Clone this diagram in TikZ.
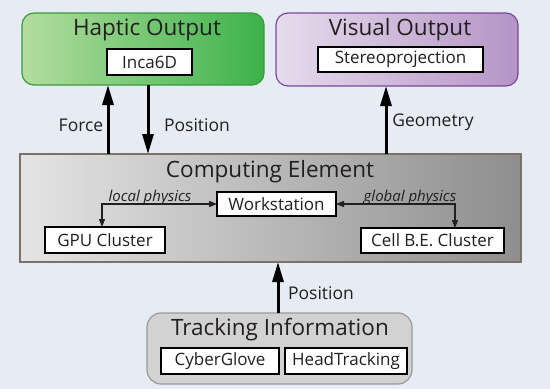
\documentclass[tikz,border=0pt]{standalone}
\usepackage{fontspec}
\setmainfont{Open Sans}
\usetikzlibrary{arrows.meta}
\definecolor{bgc}{HTML}{E7EBF4}
\definecolor{hapL}{HTML}{B3DD9F}
\definecolor{hapR}{HTML}{3CB24A}
\definecolor{hapB}{HTML}{3A9A40}
\definecolor{visL}{HTML}{E6DCEC}
\definecolor{visR}{HTML}{B594C6}
\definecolor{visB}{HTML}{7A4A98}
\definecolor{compL}{HTML}{E4E4E4}
\definecolor{compR}{HTML}{8E8E8E}
\definecolor{compB}{HTML}{7A7266}
\definecolor{trkF}{HTML}{D2D2D2}
\definecolor{trkB}{HTML}{9A9A9A}
\definecolor{txt}{HTML}{231F20}
\begin{document}
\begin{tikzpicture}[x=1pt,y=-1pt,
  bigbox/.style={rectangle, inner sep=0pt, outer sep=0pt, line width=1.2pt},
  titletext/.style={font=\fontsize{22.5}{26}\selectfont, text=txt, inner sep=0pt},
  subbox/.style={rectangle, draw=black, fill=white, line width=1.3pt, inner sep=0pt, outer sep=0pt, font=\fontsize{17}{20}\selectfont, text=txt},
  lbl/.style={font=\fontsize{17.5}{20}\selectfont, text=txt, inner sep=0pt},
  ilbl/.style={font=\fontsize{15}{17}\selectfont\itshape, text=txt, inner sep=0pt, anchor=base},
  bigarrow/.style={line width=3pt, -{Triangle[length=20pt,width=11pt]}},
  smallarrow/.style={line width=1.2pt, {Triangle[length=8pt,width=6pt]}-{Triangle[length=8pt,width=6pt]}, draw=txt}
]
\fill[bgc] (0,0) rectangle (550,389);
\useasboundingbox (0,0) rectangle (550,389);

% Haptic output
\node[bigbox, draw=hapB, left color=hapL, right color=hapR, rounded corners=12pt, minimum width=242pt, minimum height=72pt] (haptic) at (143,49) {};
\node[titletext] (haptictitle) at (147,30) {Haptic Output};
\node[subbox, minimum width=85pt, minimum height=26pt] (inca) at (149.5,62) {Inca6D};

% Visual output
\node[bigbox, draw=visB, left color=visL, right color=visR, rounded corners=12pt, minimum width=242pt, minimum height=73pt] (visual) at (397,49.5) {};
\node[titletext] (visualtitle) at (400,30) {Visual Output};
\node[subbox, minimum width=165pt, minimum height=25pt] (stereo) at (400.5,59.5) {Stereoprojection};

% Computing element
\node[bigbox, draw=compB, left color=compL, right color=compR, minimum width=501pt, minimum height=108pt] (comp) at (270.5,208) {};
\node[titletext] (comptitle) at (270,172) {Computing Element};
\node[subbox, minimum width=119pt, minimum height=24pt] (ws) at (276.5,204) {Workstation};
\node[subbox, minimum width=120pt, minimum height=26pt] (gpu) at (105,240) {GPU Cluster};
\node[subbox, minimum width=143pt, minimum height=25pt] (cell) at (432.5,240.5) {Cell B.E. Cluster};

% Tracking information
\node[bigbox, draw=trkB, fill=trkF, rounded corners=14pt, minimum width=265pt, minimum height=71pt] (track) at (279.5,348.5) {};
\node[titletext] (tracktitle) at (280,330) {Tracking Information};
\node[subbox, minimum width=118pt, minimum height=26pt] (glove) at (220,361) {CyberGlove};
\node[subbox, minimum width=122pt, minimum height=26pt] (head) at (346,361) {HeadTracking};

% x positions of connectors
\coordinate (fx) at (108,0);
\coordinate (px) at (148,0);
\coordinate (gx) at (386,0);
\coordinate (tx) at (278,0);
\coordinate (lx) at (102,0);
\coordinate (rx) at (455,0);

% big arrows
\draw[bigarrow] (comp.north -| fx) -- (haptic.south -| fx);
\draw[bigarrow] (haptic.south -| px) -- (comp.north -| px);
\draw[bigarrow] (comp.north -| gx) -- (visual.south -| gx);
\draw[bigarrow] (track.north -| tx) -- (comp.south -| tx);

\node[lbl] (force) at (81,125) {Force};
\node[lbl] (pos1) at (197,125) {Position};
\node[lbl] (geom) at (433,122) {Geometry};
\node[lbl] (pos2) at (321,293) {Position};

% physics links
\draw[smallarrow] (ws.west) -- (ws.west -| lx) -- (gpu.north -| lx);
\draw[smallarrow] (ws.east) -- (ws.east -| rx) -- (cell.north -| rx);
\node[ilbl] (local) at (150,201) {local physics};
\node[ilbl] (global) at (410,201) {global physics};
\end{tikzpicture}
\end{document}
